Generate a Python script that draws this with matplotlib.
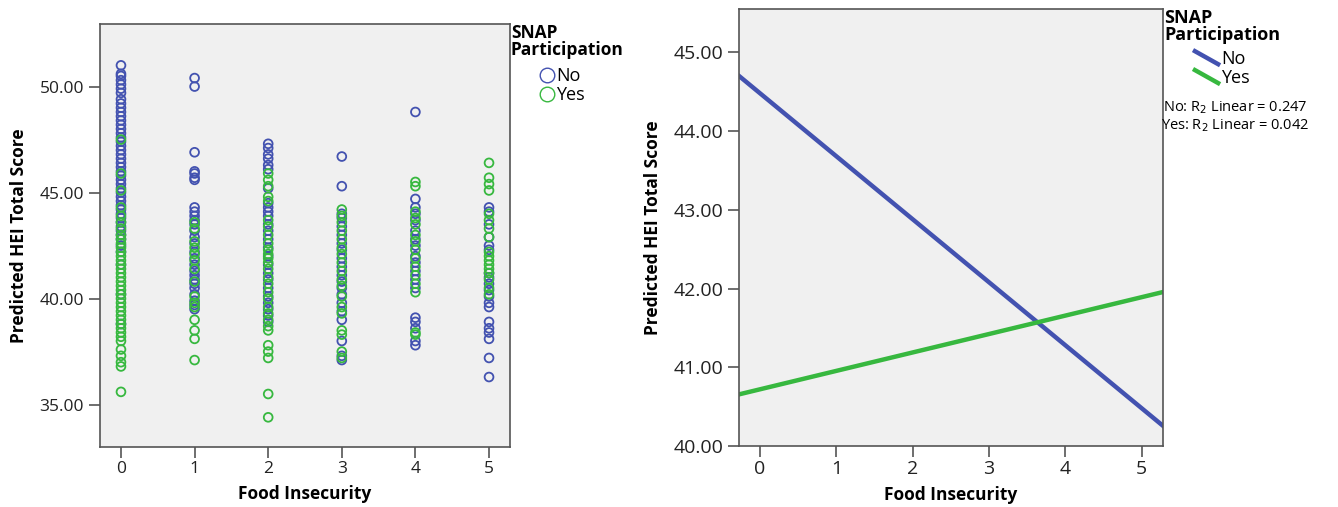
import matplotlib.pyplot as plt
from matplotlib.lines import Line2D
from matplotlib.legend_handler import HandlerBase

plt.rcParams['font.family'] = ['Open Sans', 'DejaVu Sans']

# predicted HEI total score by food insecurity level
no_by_level = {
    0: [51.0, 50.6, 50.5, 50.3, 50.1, 49.9, 49.7, 49.4, 49.2, 49.0, 48.8, 48.6,
        48.4, 48.2, 48.0, 47.8, 47.6, 47.4, 47.2, 47.0, 46.8, 46.6, 46.4, 46.2,
        46.0, 45.8, 45.6, 45.4, 45.2, 45.0, 44.8, 44.6, 44.4, 44.2, 44.0, 43.8,
        43.6, 43.4, 43.2, 43.0, 42.8, 42.5, 42.2, 41.6, 40.2, 38.8],
    1: [50.4, 50.0, 46.9, 46.0, 45.9, 45.7, 45.6, 44.3, 44.1, 43.9, 43.7, 43.5,
        43.2, 42.9, 42.6, 42.2, 41.9, 41.6, 41.3, 41.1, 40.9, 40.7, 40.5, 40.2,
        39.9, 39.7, 39.5],
    2: [47.3, 47.1, 46.8, 46.6, 46.3, 46.1, 45.2, 44.5, 44.3, 44.1, 43.9, 43.5,
        43.2, 42.8, 42.4, 42.0, 41.6, 41.2, 40.9, 40.5, 40.1, 39.8, 39.5, 39.2,
        38.9],
    3: [46.7, 45.3, 44.0, 43.8, 43.4, 43.0, 42.6, 42.3, 41.9, 41.5, 41.1, 40.8,
        40.5, 40.2, 39.8, 39.4, 39.0, 38.0, 37.3, 37.1],
    4: [48.8, 44.7, 44.3, 44.0, 43.7, 43.2, 42.8, 42.5, 42.0, 41.7, 41.3, 40.9,
        40.5, 39.1, 38.9, 38.6, 38.0, 37.8],
    5: [44.3, 44.1, 43.5, 42.9, 42.5, 42.3, 41.2, 41.0, 40.7, 40.4, 40.1, 39.8,
        39.6, 38.9, 38.6, 38.4, 38.1, 37.2, 36.3],
}
yes_by_level = {
    0: [47.5, 45.9, 45.1, 44.3, 43.9, 43.6, 43.3, 43.0, 42.8, 42.6, 42.4, 42.2,
        42.0, 41.8, 41.6, 41.4, 41.2, 41.0, 40.8, 40.6, 40.4, 40.2, 40.0, 39.8,
        39.6, 39.4, 39.2, 39.0, 38.8, 38.6, 38.4, 38.2, 38.0, 37.6, 37.3, 37.0,
        36.8, 35.6],
    1: [43.6, 43.3, 42.7, 42.4, 42.1, 41.8, 41.4, 40.8, 40.1, 39.8, 39.6, 39.0,
        38.5, 38.1, 37.1],
    2: [45.9, 45.6, 45.3, 44.8, 44.6, 43.7, 43.4, 43.0, 42.6, 42.3, 42.1, 41.9,
        41.7, 41.4, 41.0, 40.7, 40.3, 40.0, 39.6, 39.3, 39.0, 38.7, 38.5, 37.8,
        37.5, 37.2, 35.5, 34.4],
    3: [44.2, 43.9, 43.6, 43.2, 42.8, 42.4, 42.1, 41.7, 41.3, 40.9, 40.6, 40.1,
        39.6, 39.3, 38.5, 38.3, 37.5, 37.2],
    4: [45.5, 45.3, 44.1, 43.8, 43.5, 43.0, 42.7, 42.3, 41.9, 41.5, 41.1, 40.7,
        40.3, 38.4, 38.3],
    5: [46.4, 45.7, 45.4, 45.1, 44.0, 43.7, 43.3, 42.9, 42.2, 42.0, 41.8, 41.6,
        41.4, 41.2, 40.9, 40.5, 40.2],
}

# fitted lines: predicted score at food insecurity 0 and 5
fit_x = [0, 5]
fit_no = [44.48, 40.48]
fit_yes = [40.72, 41.89]
r2_no = 0.247
r2_yes = 0.042

blue = '#4352b0'
green = '#37b83f'
bg = '#f0f0f0'
frame = '#555555'


class SlantHandler(HandlerBase):
    # SPSS draws the fit-line legend keys as short slanted strokes
    def create_artists(self, legend, orig, xd, yd, w, h, fontsize, trans):
        ln = Line2D([-xd, -xd + w], [-yd + h * 1.1, -yd - h * 0.1],
                    color=orig.get_color(), lw=orig.get_linewidth(),
                    solid_capstyle='butt', transform=trans)
        return [ln]


fig = plt.figure(figsize=(13.38, 5.07), dpi=100)
ax1 = fig.add_axes([100 / 1338, 60 / 507, 410 / 1338, 423 / 507])
ax2 = fig.add_axes([739 / 1338, 61 / 507, 424 / 1338, 437 / 507])

for ax, fs in ((ax1, 12.5), (ax2, 14)):
    ax.set_facecolor(bg)
    for s in ax.spines.values():
        s.set_color(frame)
        s.set_linewidth(1.2)
    ax.tick_params(direction='out', length=8, width=1.2, color=frame,
                   labelsize=fs, labelcolor='#222222')
    ax.tick_params(axis='x', pad=2)
    ax.set_xticks(range(6))
    ax.set_xlabel('Food Insecurity', fontsize=12.5, fontweight='bold', labelpad=6)
    ax.set_ylabel('Predicted HEI Total Score', fontsize=12.5, fontweight='bold', labelpad=8)

# left: scatter
for lvl, vals in no_by_level.items():
    ax1.scatter([lvl] * len(vals), vals, s=40, facecolors='none',
                edgecolors=blue, linewidths=1.3, zorder=3)
for lvl, vals in yes_by_level.items():
    ax1.scatter([lvl] * len(vals), vals, s=40, facecolors='none',
                edgecolors=green, linewidths=1.3, zorder=3)
ax1.set_xlim(-0.285, 5.285)
ax1.set_ylim(33.0, 52.95)
ax1.set_yticks([35, 40, 45, 50])
ax1.set_yticklabels(['35.00', '40.00', '45.00', '50.00'])

fig.text(511 / 1338, 1 - 24 / 507, 'SNAP\nParticipation', fontsize=12.5,
         fontweight='bold', va='top', ha='left', linespacing=0.95)
h1 = [Line2D([], [], ls='none', marker='o', ms=10.5, mfc='none', mec=blue, mew=1.0),
      Line2D([], [], ls='none', marker='o', ms=10.5, mfc='none', mec=green, mew=1.0)]
fig.legend(h1, ['No', 'Yes'], loc='upper left', bbox_to_anchor=(540 / 1338, 1 - 67 / 507),
           frameon=False, fontsize=13, handlelength=0.8, handletextpad=0.1,
           labelspacing=0.05, borderpad=0, borderaxespad=0)

# right: fit lines
ax2.axline((fit_x[0], fit_no[0]), (fit_x[1], fit_no[1]), color=blue, lw=3.2)
ax2.axline((fit_x[0], fit_yes[0]), (fit_x[1], fit_yes[1]), color=green, lw=3.2)
ax2.set_xlim(-0.275, 5.28)
ax2.set_ylim(40.0, 45.55)
ax2.set_yticks([40, 41, 42, 43, 44, 45])
ax2.set_yticklabels(['40.00', '41.00', '42.00', '43.00', '44.00', '45.00'])

fig.text(1164 / 1338, 1 - 9 / 507, 'SNAP\nParticipation', fontsize=13,
         fontweight='bold', va='top', ha='left', linespacing=0.95)
h2 = [Line2D([], [], color=blue, lw=3.2), Line2D([], [], color=green, lw=3.2)]
fig.legend(h2, ['No', 'Yes'], loc='upper left', bbox_to_anchor=(1193 / 1338, 1 - 50 / 507),
           frameon=False, fontsize=13, handlelength=1.5, handletextpad=0.05,
           labelspacing=0.05, borderpad=0, borderaxespad=0,
           handler_map={Line2D: SlantHandler()})
fig.text(1163 / 1338, 1 - 99 / 507, 'No: R$_2$ Linear = %.3f' % r2_no,
         fontsize=10.5, va='top', ha='left')
fig.text(1161 / 1338, 1 - 117 / 507, 'Yes: R$_2$ Linear = %.3f' % r2_yes,
         fontsize=10.5, va='top', ha='left')

fig.savefig('out.png', dpi=100)
